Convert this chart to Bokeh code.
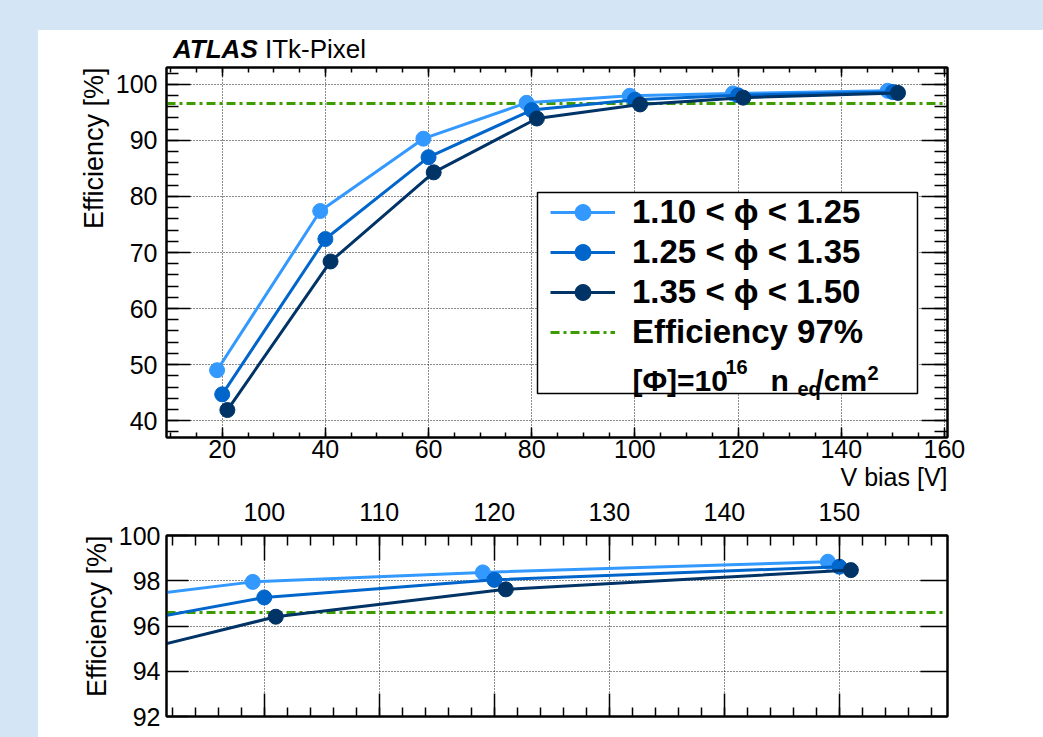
import math
from bokeh.plotting import figure
from bokeh.models import (Range1d, LinearAxis, SingleIntervalTicker, FixedTicker, Label,
                          Legend, LegendItem, BoxAnnotation, Spacer, Div, Title)
from bokeh.layouts import column, row
from bokeh.embed import file_html
from bokeh.resources import INLINE

# ---------------- data ----------------
V_BIAS_A = [19, 39, 59, 79, 99, 119, 149]
EFF_A = [49.0, 77.4, 90.3, 96.7, 97.95, 98.37, 98.84]
V_BIAS_B = [20, 40, 60, 80, 100, 120, 150]
EFF_B = [44.7, 72.4, 87.0, 95.4, 97.26, 98.04, 98.62]
V_BIAS_C = [21, 41, 61, 81, 101, 121, 151]
EFF_C = [41.9, 68.4, 84.3, 93.9, 96.41, 97.62, 98.47]
SERIES_LABELS = ["1.10 < ϕ < 1.25", "1.25 < ϕ < 1.35", "1.35 < ϕ < 1.50"]
SERIES_COLORS = ["#3399ff", "#0066cc", "#003366"]
THRESHOLD = 96.6
THRESHOLD_LABEL = "Efficiency 97%"
X_TITLE = "V bias [V]"
Y_TITLE = "Efficiency [%]"

TOP_X = (9.2, 160.6)
TOP_Y = (37.0, 103.0)
BOT_X = (91.5, 159.4)
BOT_Y = (92.0, 100.0)

FONT = "Liberation Sans"
BG = "#d4e6f5"
GREEN = "#3c9c00"


def style_axis(ax, major_in, minor_in, standoff):
    ax.axis_line_color = "black"
    ax.axis_line_width = 2
    ax.major_tick_in = major_in
    ax.major_tick_out = 0
    ax.minor_tick_in = minor_in
    ax.minor_tick_out = 0
    ax.major_tick_line_color = "black"
    ax.major_tick_line_width = 1.5
    ax.minor_tick_line_color = "black" if minor_in > 0 else None
    ax.minor_tick_line_width = 1.5
    ax.major_label_text_font = FONT
    ax.major_label_text_font_size = "25px"
    ax.major_label_text_color = "black"
    ax.major_label_standoff = standoff


def add_title(p, side, text, size, standoff):
    t = Title(text=text, align="right", text_font=FONT, text_font_size=size,
              text_font_style="normal", text_color="black", standoff=standoff,
              offset=0)
    p.add_layout(t, side)
    return t


def mirror_axes(p, side, majors, minors, major_len, minor_len):
    # tick marks only (no labels) on the opposite side, ROOT style
    for ticks, length, draw_line in ((majors, major_len, True), (minors, minor_len, False)):
        ax = LinearAxis(ticker=FixedTicker(ticks=[], minor_ticks=ticks))
        ax.major_label_standoff = 0
        ax.major_tick_in = 0
        ax.major_tick_out = 0
        ax.minor_tick_in = length
        ax.minor_tick_out = 0
        ax.minor_tick_line_color = "black" if length > 0 else None
        ax.minor_tick_line_width = 1.5
        ax.axis_line_color = "black" if draw_line else None
        ax.axis_line_width = 2
        p.add_layout(ax, side)


def base_fig(width, height, xr, yr, left, right, top, bottom, xloc):
    p = figure(width=width, height=height, x_range=Range1d(*xr), y_range=Range1d(*yr),
               output_backend="svg", toolbar_location=None, x_axis_location=xloc,
               min_border_left=left, min_border_right=right,
               min_border_top=top, min_border_bottom=bottom,
               background_fill_color="white", border_fill_color="white",
               outline_line_color="black", outline_line_width=2)
    for g in (p.xgrid, p.ygrid):
        g.grid_line_color = "black"
        g.grid_line_width = 1
        g.grid_line_dash = "1 2"
        g.grid_line_alpha = 0.9
    return p


def draw_series(p):
    out = []
    for xs, ys, c in ((V_BIAS_A, EFF_A, SERIES_COLORS[0]),
                      (V_BIAS_B, EFF_B, SERIES_COLORS[1]),
                      (V_BIAS_C, EFF_C, SERIES_COLORS[2])):
        ln = p.line(xs, ys, line_color=c, line_width=3)
        sc = p.scatter(xs, ys, marker="circle", size=15, fill_color=c, line_color=c)
        out.append((ln, sc))
    return out


# ---------------- header text (ATLAS ITk-Pixel) ----------------
header = Div(text=('<div style="font-family:\'Liberation Sans\',Arial,sans-serif;'
                   'font-size:26px;color:#000;padding-left:135px;padding-top:5px;'
                   'white-space:nowrap;line-height:1.15">'
                   '<span style="font-weight:bold;font-style:italic">ATLAS</span> ITk-Pixel</div>'),
             width=1005, height=35, styles={"background-color": "white"})
if "margin" in Div.properties():
    header.margin = 0

# ---------------- top panel ----------------
# frame: page x 166..947, y 67..437
p1 = base_fig(1005, 430, TOP_X, TOP_Y, 128, 96, 2, 58, "below")
xt1 = SingleIntervalTicker(interval=20, num_minor_ticks=4)
yt1 = SingleIntervalTicker(interval=10, num_minor_ticks=5)
p1.xaxis.ticker = xt1
p1.yaxis.ticker = yt1
style_axis(p1.below[0], 10, 5, 2)
style_axis(p1.left[0], 24, 12, 9)
add_title(p1, "below", X_TITLE, "25px", 0)
add_title(p1, "left", Y_TITLE, "27px", 8)
mirror_axes(p1, "above", list(range(0, 181, 20)), list(range(0, 181, 5)), 9, 5)
mirror_axes(p1, "right", list(range(30, 111, 10)), list(range(30, 111, 2)), 26, 13)

g1 = p1.line([TOP_X[0], TOP_X[1]], [THRESHOLD, THRESHOLD], line_color=GREEN,
             line_width=3, line_dash="9 4 3 4")
r1 = draw_series(p1)

box = BoxAnnotation(left=371, right=751, top=245, bottom=44,
                    left_units="screen", right_units="screen",
                    top_units="screen", bottom_units="screen",
                    fill_color="white", fill_alpha=1.0,
                    line_color="black", line_width=1.5, line_alpha=1.0)
p1.add_layout(box)

items = [LegendItem(label=SERIES_LABELS[i], renderers=[r1[i][0], r1[i][1]]) for i in range(3)]
items.append(LegendItem(label=THRESHOLD_LABEL, renderers=[g1]))
legend = Legend(items=items, location=(384, 85), padding=0, margin=0, spacing=0,
                glyph_width=65, glyph_height=40, label_height=40, label_standoff=17,
                label_text_font=FONT, label_text_font_style="bold",
                label_text_font_size="33px", label_text_color="black",
                background_fill_alpha=0, border_line_alpha=0)
p1.add_layout(legend)

# fluence line of the legend box
fl = [("[Φ]=10", 466, 57, "30px"), ("16", 559, 71, "20px"), ("n", 604, 57, "30px"),
      ("eq", 631, 49, "20px"), ("/cm", 649, 57, "30px"), ("2", 701, 65, "20px")]
for t, x, y, fs in fl:
    p1.add_layout(Label(x=x, y=y, x_units="screen", y_units="screen", text=t,
                        text_font=FONT, text_font_style="bold", text_font_size=fs,
                        text_baseline="alphabetic", text_color="black"))

# ---------------- bottom panel ----------------
# frame: page x 166..947, y 535..716
p2 = base_fig(1005, 242, BOT_X, BOT_Y, 128, 96, 40, 21, "above")
xt2 = SingleIntervalTicker(interval=10, num_minor_ticks=5)
yt2 = SingleIntervalTicker(interval=2, num_minor_ticks=0)
p2.xaxis.ticker = xt2
p2.yaxis.ticker = yt2
style_axis(p2.above[0], 25, 10, 15)
style_axis(p2.left[0], 22, 0, 6)
add_title(p2, "left", Y_TITLE, "27px", 8)
mirror_axes(p2, "below", list(range(90, 171, 10)), list(range(90, 171, 2)), 23, 9)
mirror_axes(p2, "right", list(range(90, 103, 2)), [], 27, 0)

p2.line([BOT_X[0], BOT_X[1]], [THRESHOLD, THRESHOLD], line_color=GREEN,
        line_width=3, line_dash="9 4 3 4")
draw_series(p2)

layout = column(
    Spacer(width=1043, height=30, styles={"background-color": BG}),
    row(Spacer(width=38, height=707, styles={"background-color": BG}),
        column(header, p1, p2)),
)

with open("out.html", "w") as f:
    f.write(file_html(layout, INLINE))
